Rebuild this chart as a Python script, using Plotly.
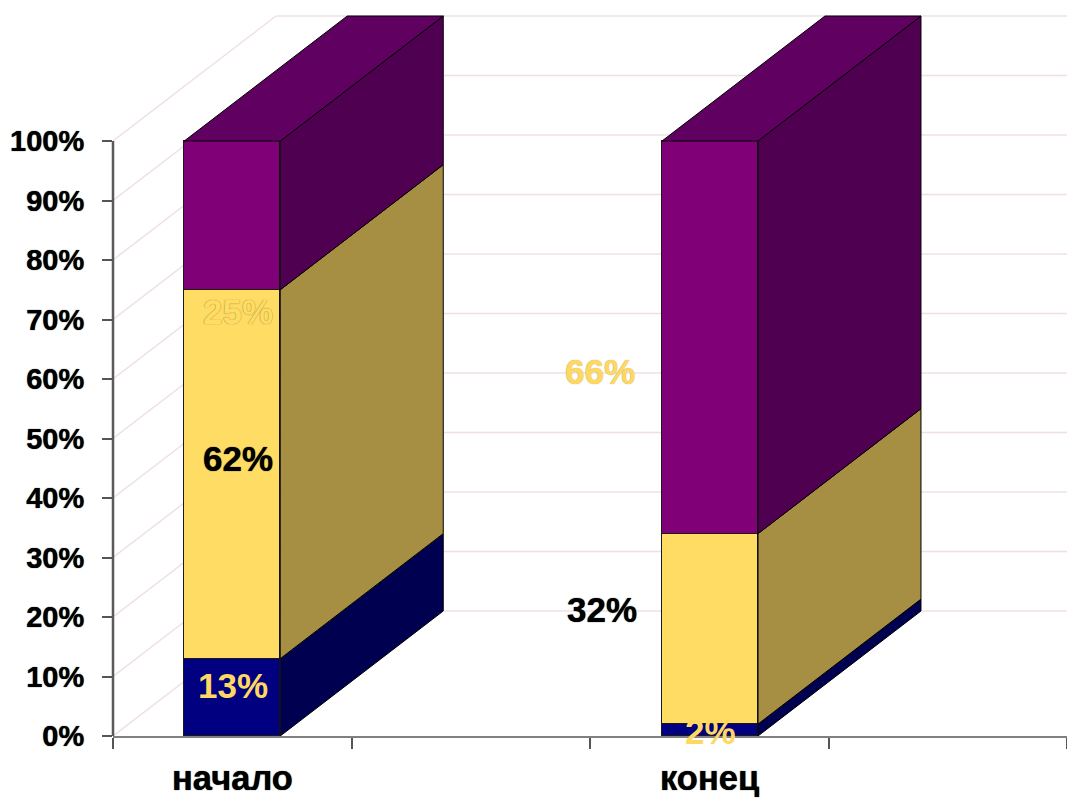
import plotly.graph_objects as go

categories = ["начало", "конец"]
series_names = ["синий", "жёлтый", "фиолетовый"]
series_start = [13, 62, 25]
series_end = [2, 32, 66]
tick_values = [0, 10, 20, 30, 40, 50, 60, 70, 80, 90, 100]

W, H = 1067, 798
L, R, T, B = 113, 0, 15, 62
PX_X = (W - L - R) / 4
PX_Y = 5.95
X_RANGE = [-0.5, 3.5]
Y_RANGE = [0, (H - B - T) / PX_Y]
DX = 163 / PX_X
DY = 125 / PX_Y
BAR_W = 96 / PX_X
positions = [0, 2.003]
front = ["#000080", "#FFDC64", "#800078"]
side = ["#000050", "#A68F42", "#500050"]
top_col = "#600060"
grid = "#EFE0E4"
FONT = "Liberation Sans"
GOLD = "#FFD862"
STROKE = "0 0 1px #000000"

columns = [series_start, series_end]
fig = go.Figure()

for s, name in enumerate(series_names):
    fig.add_bar(x=positions, y=[c[s] for c in columns], width=BAR_W, name=name,
                marker=dict(color=front[s], line=dict(color="#1a1a1a", width=1)),
                showlegend=False, hoverinfo="skip")

for pos, col in zip(positions, columns):
    x0 = pos + BAR_W / 2
    base = 0
    for s, v in enumerate(col):
        t = base + v
        fig.add_scatter(x=[x0, x0 + DX, x0 + DX, x0, x0], y=[base, base + DY, t + DY, t, base],
                        mode="lines", fill="toself", fillcolor=side[s],
                        line=dict(color="#000000", width=1), showlegend=False, hoverinfo="skip")
        base = t
    xl = pos - BAR_W / 2
    fig.add_scatter(x=[xl, xl + DX, x0 + DX, x0, xl], y=[base, base + DY, base + DY, base, base],
                    mode="lines", fill="toself", fillcolor=top_col,
                    line=dict(color="#000000", width=1), showlegend=False, hoverinfo="skip")

shapes = []
for v in tick_values:
    shapes.append(dict(type="line", xref="x", yref="y", layer="below", x0=X_RANGE[0], y0=v,
                       x1=X_RANGE[0] + DX, y1=v + DY, line=dict(color=grid, width=1.5)))
    shapes.append(dict(type="line", xref="x", yref="y", layer="below", x0=X_RANGE[0] + DX, y0=v + DY,
                       x1=X_RANGE[1], y1=v + DY, line=dict(color=grid, width=1.5)))
shapes.append(dict(type="line", xref="paper", yref="y", x0=0, x1=0, y0=tick_values[0], y1=tick_values[-1],
                   line=dict(color="#5a5a5a", width=2.5)))

def label(text, px, py, color, size=35, shadow=None):
    f = dict(family=FONT, size=size, color=color, weight="bold")
    if shadow:
        f["shadow"] = shadow
    return dict(text=text, xref="paper", yref="paper", x=(px - L) / (W - L - R), y=(H - B - py) / (H - B - T),
                showarrow=False, font=f, xanchor="center", yanchor="middle")

annotations = [
    label(f"{series_start[0]}%", 233, 685, GOLD),
    label(f"{series_start[1]}%", 238, 459, "#000000", shadow=STROKE),
    label(f"{series_start[2]}%", 238, 311, "#FFDC64", shadow="0 0 1px #7a6a30"),
    label(f"{series_end[0]}%", 710, 731, GOLD),
    label(f"{series_end[1]}%", 602, 609, "#000000", shadow=STROKE),
    label(f"{series_end[2]}%", 600, 371, GOLD, shadow="0 0 1px #b09a50"),
]
for pos, c in zip(positions, categories):
    annotations.append(dict(text=c, xref="x", yref="paper", x=pos, y=(H - B - 777.5) / (H - B - T),
                            showarrow=False, xanchor="center", yanchor="middle",
                            font=dict(family=FONT, size=34.5, color="#000000", weight="bold", shadow=STROKE)))

fig.update_layout(
    width=W, height=H, barmode="stack", bargap=0, plot_bgcolor="white", paper_bgcolor="white",
    margin=dict(l=L, r=R, t=T, b=B, autoexpand=False), shapes=shapes, annotations=annotations,
    xaxis=dict(range=X_RANGE, tickmode="array", tickvals=[-0.5, 0.5, 1.5, 2.5, 3.5],
               ticktext=["", "", "", "", ""], ticks="outside", ticklen=11, tickwidth=1.5,
               tickcolor="#555555", showline=True, linecolor="#808080", linewidth=2,
               showgrid=False, zeroline=False, fixedrange=True),
    yaxis=dict(range=Y_RANGE, tickmode="array", tickvals=tick_values,
               ticktext=[f"{v}%" for v in tick_values], ticks="outside", ticklen=10, tickwidth=1.5,
               tickcolor="#555555", showline=False, showgrid=False, zeroline=False, fixedrange=True,
               ticklabelstandoff=12,
               tickfont=dict(family=FONT, size=29, color="#000000", weight="bold", shadow=STROKE)),
)

fig.write_html("out.html", config={"displayModeBar": False}, post_script="document.body.style.margin='0';")
